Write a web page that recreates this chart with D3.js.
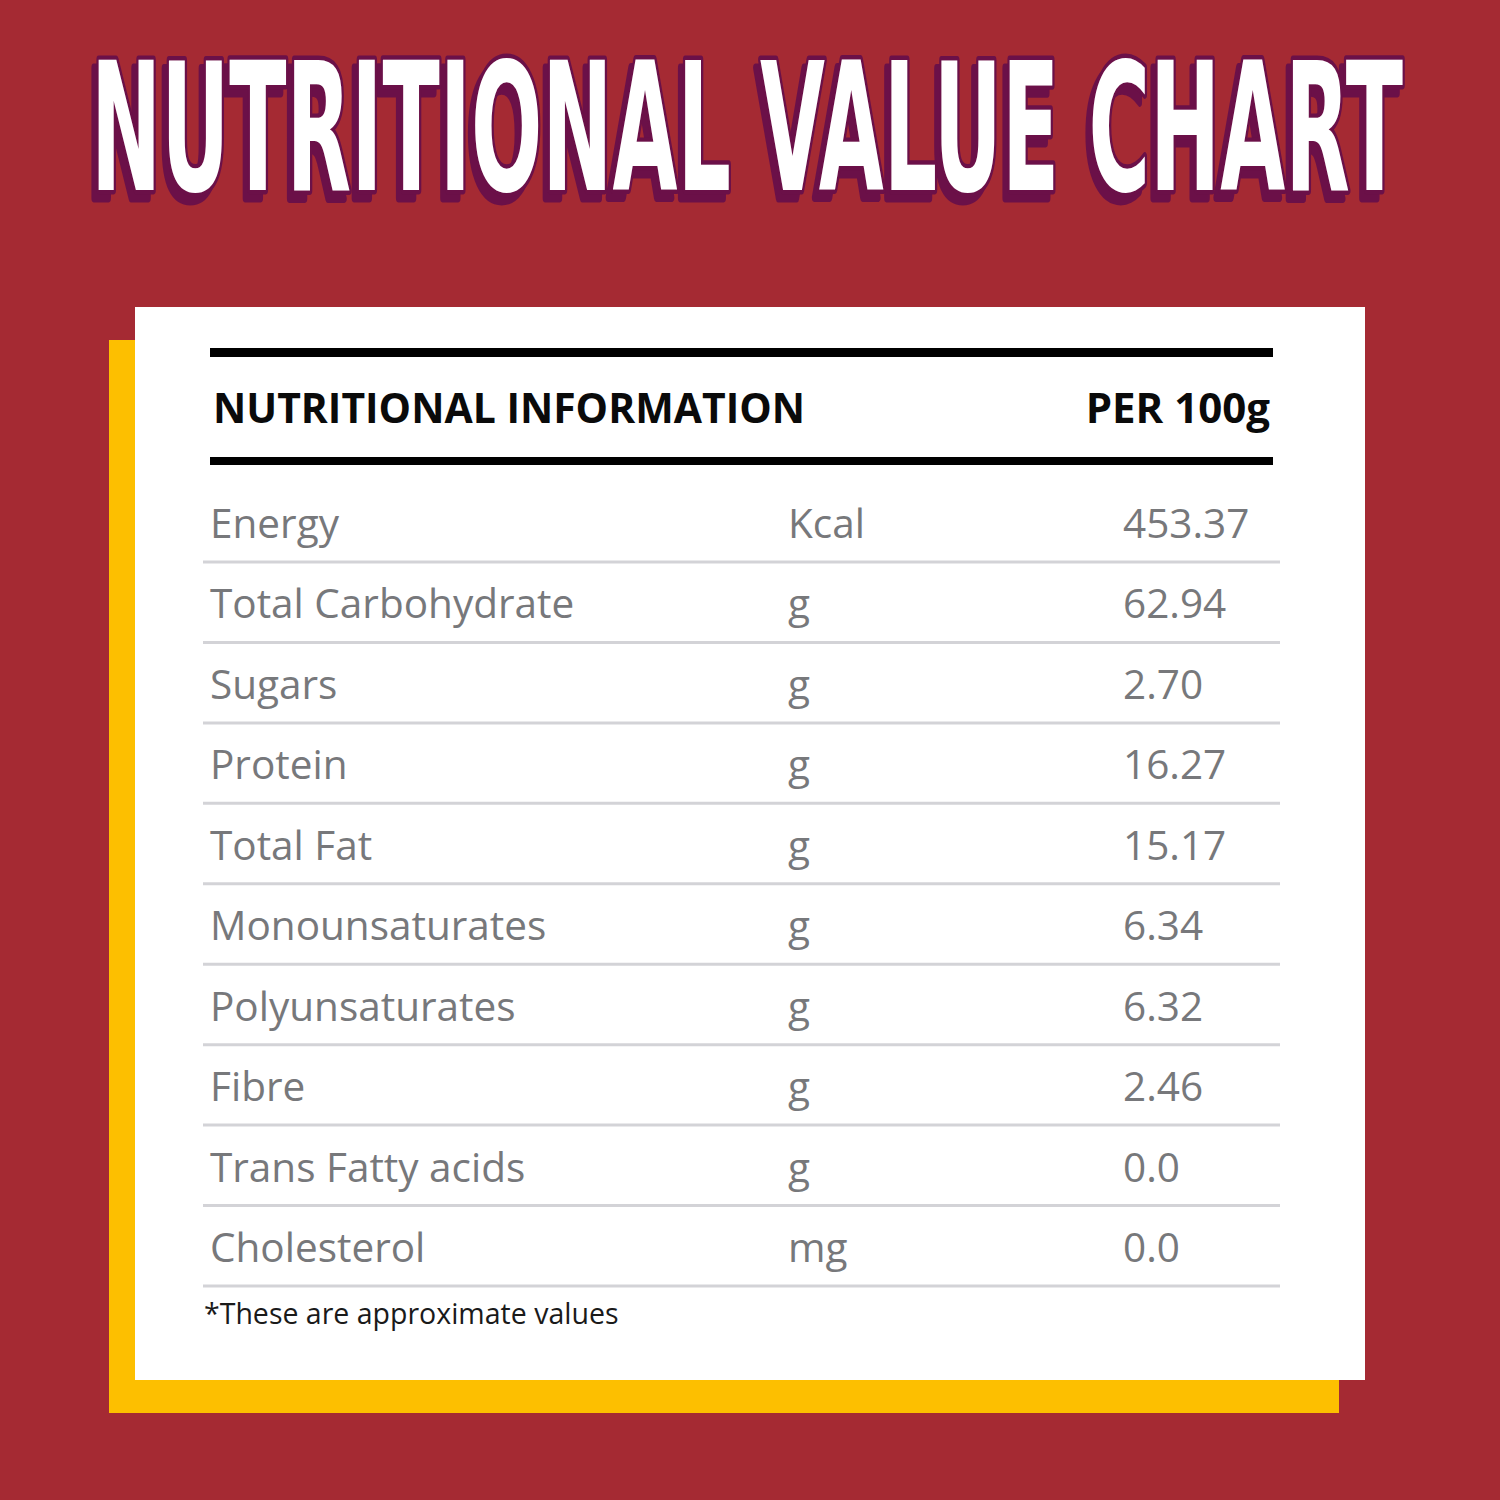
<!DOCTYPE html>
<html>
<head>
<meta charset="utf-8">
<script src="https://cdn.jsdelivr.net/npm/d3@7"></script>
<style>
  html, body { margin: 0; padding: 0; background: #a52a33; }
  svg { display: block; }
</style>
</head>
<body>
<svg id="chart" width="1500" height="1500"></svg>
<script>
// table data
const nutrients = ["Energy", "Total Carbohydrate", "Sugars", "Protein", "Total Fat",
    "Monounsaturates", "Polyunsaturates", "Fibre", "Trans Fatty acids", "Cholesterol"];
const units = ["Kcal", "g", "g", "g", "g", "g", "g", "g", "g", "mg"];
const per100g = ["453.37", "62.94", "2.70", "16.27", "15.17", "6.34", "6.32", "2.46", "0.0", "0.0"];
const columns = ["nutrient", "unit", "value"];

const title = "NUTRITIONAL VALUE CHART";
const headLeft = "NUTRITIONAL INFORMATION";
const headRight = "PER 100g";
const footnote = "*These are approximate values";

const svg = d3.select("svg#chart");
const W = 1500, H = 1500;

const colBg = "#a52a33", colYellow = "#fdbf00", colPurple = "#6b1048";
const colGrey = "#77787b", colRule = "#d3d3d7";

svg.append("rect").attr("width", W).attr("height", H).attr("fill", colBg);

// title: outline + hard drop shadow, squeezed horizontally to fit
const titleOuter = svg.append("g")
    .style("filter", `drop-shadow(-5px 8px 0 ${colPurple})`);
const titleInner = titleOuter.append("g");
const titleText = titleInner.append("text")
    .attr("x", 0).attr("y", 0)
    .attr("font-family", "'Liberation Sans Narrow', 'DejaVu Sans Condensed', sans-serif")
    .attr("font-weight", "bold")
    .attr("font-size", 178)
    .attr("fill", "#ffffff")
    .attr("stroke", colPurple).attr("stroke-width", 7)
    .attr("stroke-linejoin", "round").attr("paint-order", "stroke")
    .attr("vector-effect", "non-scaling-stroke")
    .text(title);
const natural = titleText.node().getComputedTextLength();
titleInner.attr("transform", `translate(91,190) scale(${1312 / natural},1)`);

// card: yellow backing + white panel
svg.append("rect").attr("x", 109).attr("y", 340).attr("width", 1230).attr("height", 1073).attr("fill", colYellow);
svg.append("rect").attr("x", 135).attr("y", 307).attr("width", 1230).attr("height", 1073).attr("fill", "#ffffff");

// header
svg.append("line").attr("x1", 210).attr("x2", 1273).attr("y1", 352.5).attr("y2", 352.5)
    .attr("stroke", "#000").attr("stroke-width", 9);
svg.append("line").attr("x1", 210).attr("x2", 1273).attr("y1", 461).attr("y2", 461)
    .attr("stroke", "#000").attr("stroke-width", 8);

const headG = svg.append("g")
    .attr("font-family", "'Open Sans', sans-serif")
    .attr("font-weight", "bold")
    .attr("font-size", 42)
    .attr("fill", "#0a0a0a");
headG.append("text").attr("x", 213).attr("y", 423)
    .attr("textLength", 592).attr("lengthAdjust", "spacingAndGlyphs")
    .text(headLeft);
headG.append("text").attr("x", 1270).attr("y", 423).attr("text-anchor", "end")
    .text(headRight);

// scales
const y = d3.scalePoint().domain(nutrients).range([538, 1262]);
const x = d3.scaleOrdinal().domain(columns).range([210, 788, 1123]);

const rows = nutrients.map((n, i) => ({ nutrient: n, unit: units[i], value: per100g[i] }));

const rowG = svg.append("g")
    .attr("font-family", "'Open Sans', sans-serif")
    .attr("font-size", 40.5)
    .attr("fill", colGrey)
    .selectAll("g")
    .data(rows)
    .join("g")
    .attr("transform", d => `translate(0,${y(d.nutrient)})`);

rowG.append("line")
    .attr("x1", 203).attr("x2", 1280)
    .attr("y1", 24).attr("y2", 24)
    .attr("stroke", colRule).attr("stroke-width", 3);

columns.forEach(c => {
    rowG.append("text")
        .attr("x", x(c))
        .attr("y", 0)
        .text(d => d[c]);
});

svg.append("text")
    .attr("x", 204).attr("y", 1324)
    .attr("font-family", "'Open Sans', sans-serif")
    .attr("font-size", 28.5)
    .attr("fill", "#1a1a1a")
    .text(footnote);
</script>
</body>
</html>
